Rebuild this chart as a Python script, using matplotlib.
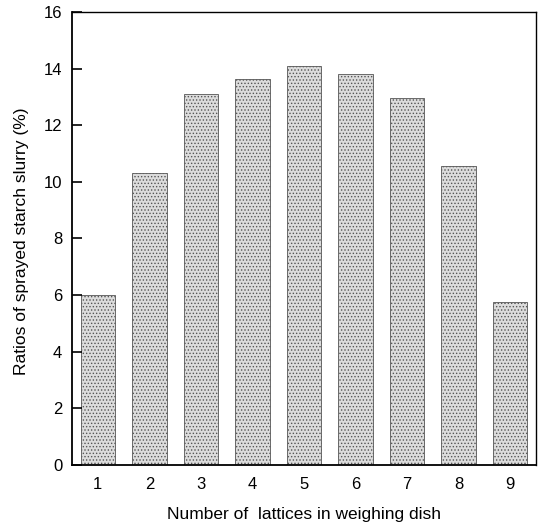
import matplotlib
matplotlib.use("Agg")
import matplotlib.pyplot as plt

plt.rcParams['font.family'] = ['Liberation Sans', 'DejaVu Sans']
plt.rcParams['hatch.color'] = '#a0a0a0'
plt.rcParams['hatch.linewidth'] = 0.6

categories = [1, 2, 3, 4, 5, 6, 7, 8, 9]
values = [6.0, 10.3, 13.1, 13.65, 14.1, 13.8, 12.95, 10.55, 5.75]
yticks = [0, 2, 4, 6, 8, 10, 12, 14, 16]

fig = plt.figure(figsize=(5.38, 5.24), dpi=100)
ax = fig.add_axes([0.134, 0.1126, 0.862, 0.8645])

ax.bar(categories, values, width=0.67, color='#dcdcdc', edgecolor='#555555',
       linewidth=0.6, hatch='.....')

ax.set_xlim(0.5, 9.5)
ax.set_ylim(0, 16)
ax.set_yticks(yticks)
ax.set_xticks(categories)
ax.tick_params(axis='y', direction='in', length=7, width=1.2, labelsize=12, pad=7)
ax.tick_params(axis='x', length=0, labelsize=12, pad=9)
for s in ax.spines.values():
    s.set_linewidth(1.0)
ax.spines['left'].set_linewidth(1.3)
ax.spines['bottom'].set_linewidth(1.3)

fig.text(304 / 538, 1 - 519 / 524, 'Number of  lattices in weighing dish', fontsize=12.5,
         ha='center', va='baseline')
fig.text(21.5 / 538, 1 - 241 / 524, 'Ratios of sprayed starch slurry (%)', fontsize=12.5,
         rotation=90, ha='center', va='center')

fig.savefig('out.png', dpi=100)
